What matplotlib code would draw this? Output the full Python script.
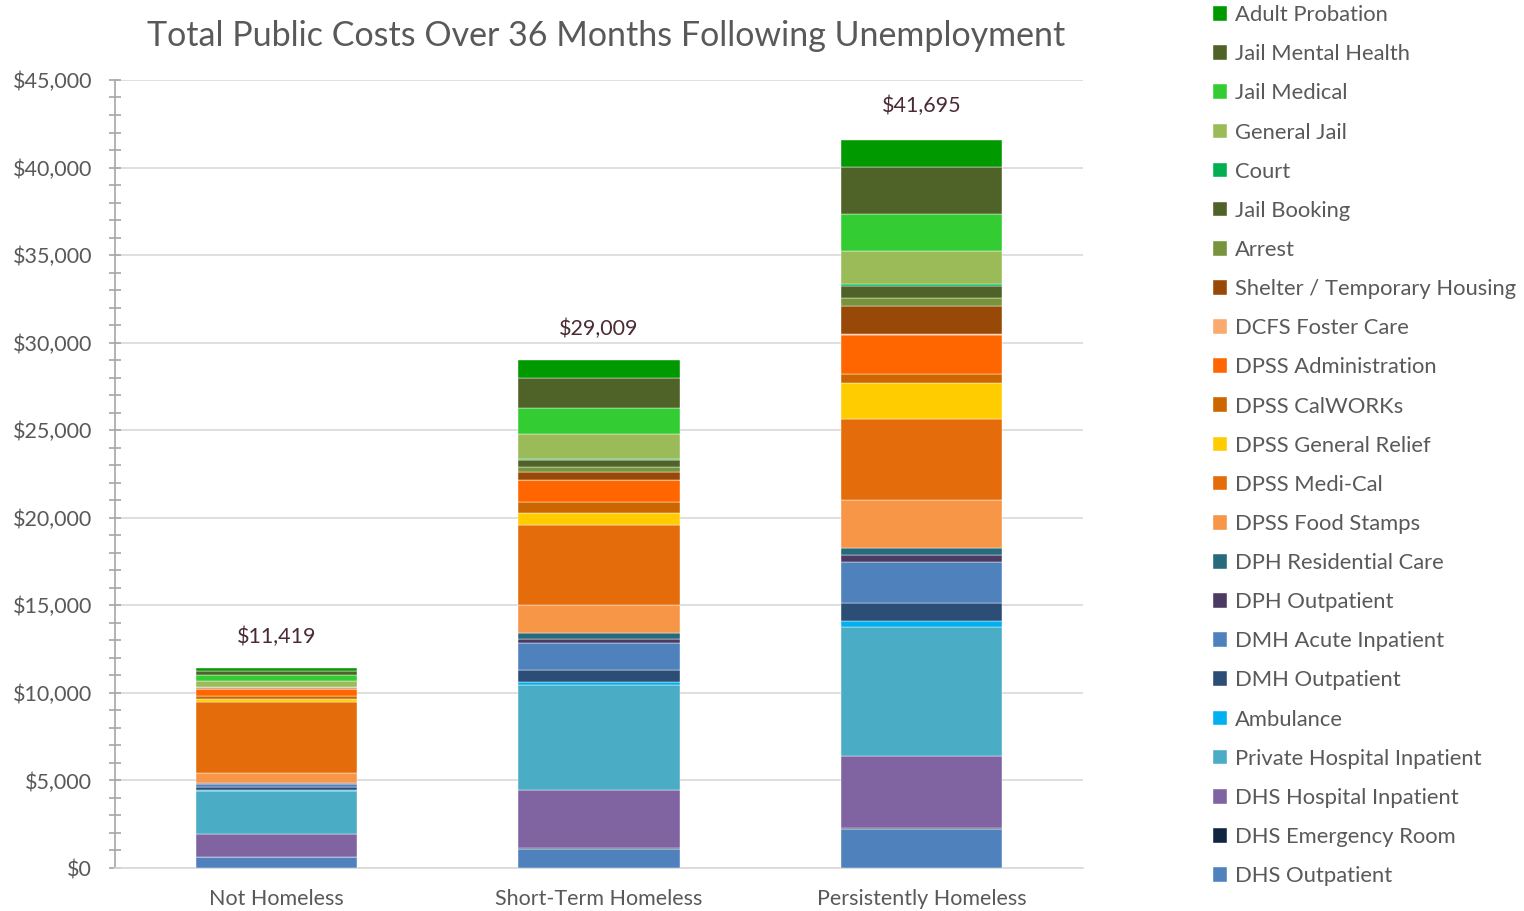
import numpy as np
import matplotlib.pyplot as plt
from matplotlib.ticker import MultipleLocator, FuncFormatter

plt.rcParams['font.family'] = ['Lato', 'DejaVu Sans']

groups = ['Not Homeless', 'Short-Term Homeless', 'Persistently Homeless']
totals = [11419, 29009, 41695]

# stack order, bottom to top
kategorien = ['DHS Outpatient', 'DHS Emergency Room', 'DHS Hospital Inpatient',
              'Private Hospital Inpatient', 'Ambulance', 'DMH Outpatient',
              'DMH Acute Inpatient', 'DPH Outpatient', 'DPH Residential Care',
              'DPSS Food Stamps', 'DPSS Medi-Cal', 'DPSS General Relief',
              'DPSS CalWORKs', 'DPSS Administration', 'DCFS Foster Care',
              'Shelter / Temporary Housing', 'Arrest', 'Jail Booking', 'Court',
              'General Jail', 'Jail Medical', 'Jail Mental Health', 'Adult Probation']

farben = ['#4F81BD', '#10253F', '#8064A2', '#4BACC6', '#00B0F0', '#2C4D75',
          '#4F81BD', '#4B3A62', '#276A7C', '#F79646', '#E46C0A', '#FFCC00',
          '#CC6600', '#FF6600', '#FAAA6E', '#984807', '#77933C', '#4F6228',
          '#00B050', '#9BBB59', '#33CC33', '#4F6228', '#009900']

not_homeless = [610, 20, 1330, 2420, 95, 130, 210, 20, 20, 570, 4060, 170,
                190, 380, 10, 30, 60, 20, 10, 340, 305, 230, 210]
short_term = [1085, 30, 3315, 6020, 150, 705, 1560, 210, 360, 1560, 4590, 705,
              590, 1260, 40, 440, 270, 420, 60, 1410, 1465, 1735, 1030]
persistent = [2240, 50, 4095, 7400, 300, 1045, 2340, 400, 400, 2720, 4665, 2015,
              550, 2245, 50, 1560, 475, 665, 115, 1925, 2095, 2685, 1520]

werte = np.array([not_homeless, short_term, persistent], dtype=float).T

fig = plt.figure(figsize=(15.24, 9.11), dpi=100)
ax = fig.add_axes([0.0755, 0.0472, 0.635, 0.865])

x = np.arange(len(groups))
unten = np.zeros(len(groups))
handles = []
for i in range(len(kategorien)):
    b = ax.bar(x, werte[i], 0.5, bottom=unten, color=farben[i], edgecolor='white',
               linewidth=0.3, label=kategorien[i], zorder=3)
    handles.append(b)
    unten = unten + werte[i]

for i in range(len(groups)):
    ax.text(x[i], totals[i] + 1800, '${:,}'.format(totals[i]), ha='center', va='center',
            fontsize=15.5, color='#4B2B33')

ax.set_xlim(-0.5, 2.5)
ax.set_ylim(0, 45000)
ax.yaxis.set_major_locator(MultipleLocator(5000))
ax.yaxis.set_minor_locator(MultipleLocator(1000))
ax.yaxis.set_major_formatter(FuncFormatter(lambda v, p: '${:,.0f}'.format(v)))
ax.grid(axis='y', color='#D9D9D9', linewidth=1.2, zorder=0)
ax.set_axisbelow(True)
for s in ['top', 'right']:
    ax.spines[s].set_visible(False)
ax.spines['bottom'].set_color('#D9D9D9')
ax.spines['bottom'].set_linewidth(1.2)
ax.spines['left'].set_color('#A6A6A6')
ax.spines['left'].set_linewidth(1.2)
ax.tick_params(axis='y', which='both', direction='inout', length=9, width=1.2,
               color='#A6A6A6', labelsize=15.5, labelcolor='#595959', pad=12)
ax.tick_params(axis='x', length=0, labelsize=15.5, labelcolor='#595959', pad=15)
ax.set_xticks(x)
ax.set_xticklabels(groups)

fig.text(0.398, 0.960, 'Total Public Costs Over 36 Months Following Unemployment',
         ha='center', va='center', fontsize=24.5, color='#595959')

fig.legend(handles[::-1], kategorien[::-1], loc='upper left', bbox_to_anchor=(0.783, 1.016),
           frameon=False, fontsize=15.8, labelcolor='#595959', handlelength=0.65,
           handleheight=0.65, handletextpad=0.35, labelspacing=0.872)

fig.savefig('out.png', dpi=100)
